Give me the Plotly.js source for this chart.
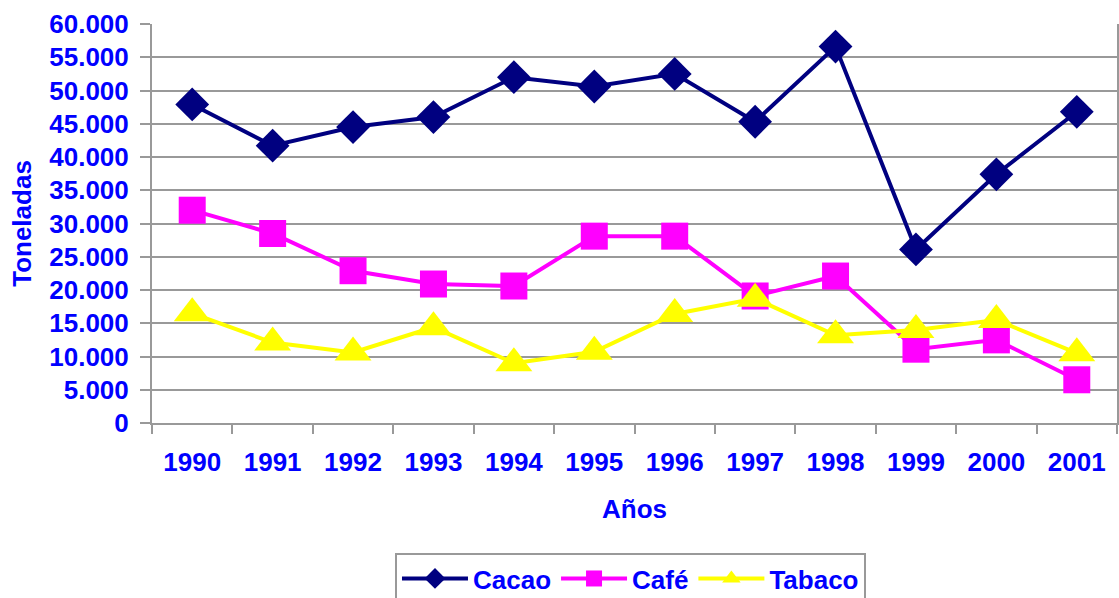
<!DOCTYPE html>
<html>
<head>
<meta charset="utf-8">
<script src="https://cdn.plot.ly/plotly-3.0.1.min.js"></script>
<style>html,body{margin:0;padding:0;background:#fff;}#chart{width:1119px;height:598px;}</style>
</head>
<body>
<div id="chart"></div>
<script>
var years = ['1990','1991','1992','1993','1994','1995','1996','1997','1998','1999','2000','2001'];
var cacao = [47900, 41700, 44500, 46000, 52000, 50600, 52500, 45300, 56600, 26100, 37400, 46800];
var cafe = [32000, 28500, 22900, 20900, 20600, 28100, 28100, 19100, 22100, 11100, 12500, 6500];
var tabaco = [16500, 12100, 10600, 14400, 9000, 10700, 16400, 18700, 13200, 14000, 15500, 10500];
var yTicks = [0,5000,10000,15000,20000,25000,30000,35000,40000,45000,50000,55000,60000];

var blue = '#0000FF';
var gray = '#999999';
var fontFam = '"Liberation Sans", Arial, sans-serif';

var traces = [
  {x: years, y: cacao, name: 'Cacao', type: 'scatter', mode: 'lines+markers', cliponaxis: false,
   line: {color: '#000080', width: 4}, marker: {symbol: 'diamond', size: 26, color: '#000080'}},
  {x: years, y: cafe, name: 'Café', type: 'scatter', mode: 'lines+markers', cliponaxis: false,
   line: {color: '#FF00FF', width: 4}, marker: {symbol: 'square', size: 27, color: '#FF00FF'}},
  {x: years, y: tabaco, name: 'Tabaco', type: 'scatter', mode: 'lines+markers', cliponaxis: false,
   line: {color: '#FFFF00', width: 4}, marker: {symbol: 'triangle-up', size: 32, color: '#FFFF00'}}
];

var layout = {
  width: 1119, height: 598,
  margin: {l: 152, r: 2, t: 24, b: 175, autoexpand: false},
  paper_bgcolor: '#fff', plot_bgcolor: '#fff',
  separators: ',.',
  font: {family: fontFam, color: blue, size: 26, weight: 'bold'},
  showlegend: true,
  xaxis: {
    type: 'category', tickson: 'boundaries', range: [-0.5, 11.5], autorange: false,
    showgrid: false, showline: true, linecolor: gray, linewidth: 2,
    ticks: 'outside', ticklen: 9, tickwidth: 2, tickcolor: gray,
    tickfont: {family: fontFam, size: 26, color: blue, weight: 'bold'},
    ticklabelstandoff: 15,
    title: {text: 'Años', font: {family: fontFam, size: 26, color: blue, weight: 'bold'}, standoff: 24},
    zeroline: false
  },
  yaxis: {
    range: [0, 60000], autorange: false, tickvals: yTicks, tickformat: ',d',
    showgrid: true, gridcolor: gray, gridwidth: 2,
    showline: true, linecolor: gray, linewidth: 2, mirror: true,
    ticks: 'outside', ticklen: 10, tickwidth: 2, tickcolor: gray,
    tickfont: {family: fontFam, size: 26, color: blue, weight: 'bold'},
    ticklabelstandoff: 6,
    title: {text: 'Toneladas', font: {family: fontFam, size: 26, color: blue, weight: 'bold'}, standoff: 10},
    zeroline: false
  },
  legend: {
    orientation: 'h', x: 0.2518, xanchor: 'left', y: -0.326, yanchor: 'top',
    bordercolor: gray, borderwidth: 2, bgcolor: '#fff',
    font: {family: fontFam, size: 26, color: blue, weight: 'bold'},
    itemwidth: 66, tracegroupgap: 0
  }
};

Plotly.newPlot('chart', traces, layout, {displayModeBar: false, staticPlot: true});
</script>
</body>
</html>
